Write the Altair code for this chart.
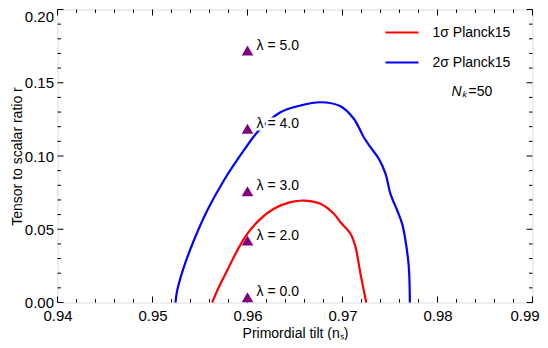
import altair as alt
import pandas as pd

# ---- data ----
ns_1sigma = [0.95628, 0.95698, 0.95786, 0.95892, 0.95997, 0.96137, 0.96277, 0.96453,
             0.96593, 0.96768, 0.96909, 0.96979, 0.97084, 0.97137, 0.97189, 0.97250]
r_1sigma = [0.0, 0.0104, 0.0218, 0.0355, 0.0469, 0.0571, 0.0640, 0.0685,
            0.0696, 0.0674, 0.0606, 0.0548, 0.0469, 0.0378, 0.0196, 0.0]

ns_2sigma = [0.95242, 0.95260, 0.95330, 0.95435, 0.95576, 0.95751, 0.95961, 0.96119,
             0.96347, 0.96558, 0.96768, 0.96979, 0.97119, 0.97224, 0.97295, 0.97382,
             0.97453, 0.97505, 0.97576, 0.97628, 0.97663, 0.97698, 0.97709]
r_2sigma = [0.0, 0.0082, 0.0241, 0.0423, 0.0628, 0.0833, 0.1038, 0.1174,
            0.1299, 0.1345, 0.1367, 0.1340, 0.1254, 0.1128, 0.1060, 0.0981,
            0.0878, 0.0742, 0.0628, 0.0537, 0.0423, 0.0241, 0.0]

series_names = ["1σ Planck15", "2σ Planck15"]
series_colors = ["#ff0000", "#0000ff"]

lambda_vals = [0.0, 2.0, 3.0, 4.0, 5.0]
lambda_ns = [0.96, 0.96, 0.96, 0.96, 0.96]
lambda_r = [0.0036, 0.0423, 0.0760, 0.1186, 0.1720]

x_major = [0.94, 0.95, 0.96, 0.97, 0.98, 0.99]
x_minor = [0.942, 0.944, 0.946, 0.948, 0.952, 0.954, 0.956, 0.958,
           0.962, 0.964, 0.966, 0.968, 0.972, 0.974, 0.976, 0.978,
           0.982, 0.984, 0.986, 0.988]
y_major = [0.0, 0.05, 0.10, 0.15, 0.20]
y_minor = [0.01, 0.02, 0.03, 0.04, 0.06, 0.07, 0.08, 0.09,
           0.11, 0.12, 0.13, 0.14, 0.16, 0.17, 0.18, 0.19]

nk_label = "=50"

# ---- tables ----
rows = []
for name, xs_, ys_ in [(series_names[0], ns_1sigma, r_1sigma), (series_names[1], ns_2sigma, r_2sigma)]:
    for i, (a, b) in enumerate(zip(xs_, ys_)):
        rows.append({"ns": a, "r": b, "series": name, "order": i})
curves = pd.DataFrame(rows)

pts = pd.DataFrame({"ns": lambda_ns, "r": lambda_r,
                    "label": [f"λ = {v:.1f}" for v in lambda_vals]})

W, H = 475, 293
FONT = "Liberation Sans"
xs = alt.Scale(domain=[0.94, 0.99], nice=False, zero=False)
ys = alt.Scale(domain=[0.0, 0.20], nice=False, zero=False)

x_axis = alt.Axis(values=x_major, format=".2f", ticks=False, domain=False, grid=False,
                  labelFlush=False, labelAlign="center",
                  labelOffset=alt.ExprRef("datum.value >= 0.985 ? -8 : 0"),
                  labelFontSize=15, labelFont=FONT, labelColor="black", labelPadding=6,
                  title="Primordial tilt (nₛ)", titleFont=FONT, titleFontSize=14,
                  titleFontWeight="normal", titleColor="black",
                  titleY=35, titleBaseline="alphabetic")
y_axis = alt.Axis(values=y_major, format=".2f", ticks=False, domain=False, grid=False,
                  labelFlush=False, labelBaseline="middle",
                  labelOffset=alt.ExprRef("datum.value >= 0.195 ? 7 : 0"),
                  labelFontSize=15, labelFont=FONT, labelColor="black", labelPadding=4,
                  title="Tensor to scalar ratio r", titleFont=FONT, titleFontSize=14,
                  titleFontWeight="normal", titleColor="black",
                  titleX=-36, titleBaseline="alphabetic")

X = lambda: alt.X("ns:Q", scale=xs, axis=x_axis)
Y = lambda: alt.Y("r:Q", scale=ys, axis=y_axis)

lines = alt.Chart(curves).mark_line(strokeWidth=2.2, interpolate="catmull-rom").encode(
    x=X(), y=Y(),
    color=alt.Color("series:N", scale=alt.Scale(domain=series_names, range=series_colors), legend=None),
    order="order:Q",
    detail="series:N",
)

tri = alt.Chart(pts).mark_point(shape="triangle-up", filled=True, size=135, color="#800080", opacity=1).encode(
    x=X(), y=Y(),
)

halo = alt.Chart(pts).mark_text(align="left", baseline="middle", dx=9, dy=-5, font=FONT, fontSize=14,
                                stroke="white", strokeWidth=5, color="white").encode(
    x=X(), y=Y(), text="label:N",
)
labels = alt.Chart(pts).mark_text(align="left", baseline="middle", dx=9, dy=-5, font=FONT, fontSize=14,
                                  color="black").encode(
    x=X(), y=Y(), text="label:N",
)

# inward frame ticks
def xticks(vals, length):
    df = pd.DataFrame({"ns": vals})
    bottom = alt.Chart(df).mark_rule(color="black", strokeWidth=1).encode(
        x=X(), y=alt.value(H), y2=alt.value(H - length))
    top = alt.Chart(df).mark_rule(color="black", strokeWidth=1).encode(
        x=X(), y=alt.value(0), y2=alt.value(length))
    return [bottom, top]

def yticks(vals, length):
    df = pd.DataFrame({"r": vals})
    left = alt.Chart(df).mark_rule(color="black", strokeWidth=1).encode(
        y=Y(), x=alt.value(0), x2=alt.value(length))
    right = alt.Chart(df).mark_rule(color="black", strokeWidth=1).encode(
        y=Y(), x=alt.value(W), x2=alt.value(W - length))
    return [left, right]

tick_layers = xticks(x_major, 6) + xticks(x_minor, 3.5) + yticks(y_major, 6) + yticks(y_minor, 3.5)

# legend (manual, Mathematica style)
leg_layers = []
for i, (name, col) in enumerate(zip(series_names, series_colors)):
    yy = 23 + 30 * i
    leg_layers.append(alt.Chart(pd.DataFrame({"n": [name]})).mark_rule(color=col, strokeWidth=2.2).encode(
        x=alt.value(328), x2=alt.value(361), y=alt.value(yy)))
    leg_layers.append(alt.Chart(pd.DataFrame({"n": [name]})).mark_text(
        align="left", baseline="middle", font=FONT, fontSize=14, color="black").encode(
        x=alt.value(375), y=alt.value(yy), text="n:N"))
leg_layers.append(alt.Chart(pd.DataFrame({"n": ["Nₖ"]})).mark_text(
    align="left", baseline="middle", font=FONT, fontSize=14, fontStyle="italic", color="black").encode(
    x=alt.value(394), y=alt.value(82), text="n:N"))
leg_layers.append(alt.Chart(pd.DataFrame({"n": [nk_label]})).mark_text(
    align="left", baseline="middle", font=FONT, fontSize=14, color="black").encode(
    x=alt.value(411), y=alt.value(82), text="n:N"))

chart = alt.layer(lines, *tick_layers, tri, halo, labels, *leg_layers).properties(
    width=W, height=H,
    autosize=alt.AutoSizeParams(type="none"),
    padding={"left": 49.5, "top": 1.5, "right": 7.5, "bottom": 37.5},
).configure_view(stroke="black", strokeWidth=1).configure(background="white")

chart.save("out.html", embed_options={"renderer": "svg", "actions": False})
